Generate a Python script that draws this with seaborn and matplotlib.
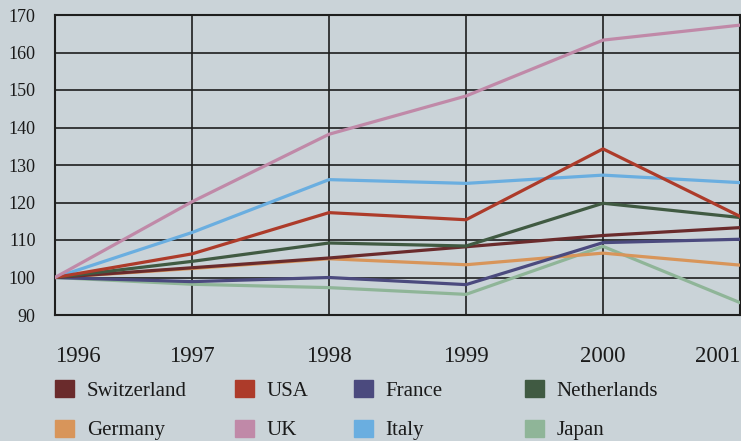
import matplotlib
matplotlib.use("Agg")
import matplotlib.pyplot as plt
from matplotlib.patches import Patch
import seaborn as sns
import pandas as pd

years = [1996, 1997, 1998, 1999, 2000, 2001]
switzerland = [100, 102.6, 105.2, 108.2, 111.2, 113.3]
usa = [100, 106.3, 117.3, 115.4, 134.3, 116.3]
france = [100, 98.9, 100.0, 98.1, 109.3, 110.2]
netherlands = [100, 104.3, 109.2, 108.4, 119.8, 116.0]
germany = [100, 102.4, 105.0, 103.4, 106.5, 103.3]
uk = [100, 120.2, 138.2, 148.4, 163.3, 167.3]
italy = [100, 112.0, 126.1, 125.1, 127.3, 125.3]
japan = [100, 98.2, 97.3, 95.5, 108.3, 93.3]

series = {
    "Switzerland": switzerland, "USA": usa, "France": france, "Netherlands": netherlands,
    "Germany": germany, "UK": uk, "Italy": italy, "Japan": japan,
}
colors = {
    "Switzerland": "#6a2b2c", "USA": "#ad3b2a", "France": "#4b4a7e", "Netherlands": "#405a42",
    "Germany": "#d8955a", "UK": "#c089a8", "Italy": "#6aaee0", "Japan": "#8fb598",
}
yticks = [90, 100, 110, 120, 130, 140, 150, 160, 170]

rows = []
for name, vals in series.items():
    for y, v in zip(years, vals):
        rows.append({"year": y, "value": v, "country": name})
df = pd.DataFrame(rows)

bg = "#cad3d8"
W, H = 741, 441
fig = plt.figure(figsize=(W / 100, H / 100), dpi=100, facecolor=bg)
ax = fig.add_axes([55 / W, 1 - 315 / H, (740 - 55) / W, 300 / H])
ax.set_facecolor(bg)

draw_order = ["Japan", "Germany", "France", "Switzerland", "Netherlands", "Italy", "USA", "UK"]
sns.lineplot(data=df, x="year", y="value", hue="country", hue_order=draw_order,
             palette=colors, linewidth=2.3, ax=ax, legend=False, zorder=3)

ax.set_xlim(1996, 2001)
ax.set_ylim(90, 170)
ax.set_xlabel("")
ax.set_ylabel("")
ax.set_xticks(years)
ax.set_yticks(yticks)
ax.grid(True, color="#1e1e1e", linewidth=1.2, zorder=1)
ax.set_axisbelow(True)
for s in ax.spines.values():
    s.set_color("#1e1e1e")
    s.set_linewidth(1.5)
ax.tick_params(axis="both", length=0, colors="#1a1a1a")
ax.tick_params(axis="y", pad=14)
ax.tick_params(axis="x", pad=22)
ax.set_yticklabels([str(t) for t in yticks], fontfamily="Liberation Serif", fontsize=13)
ax.set_xticklabels([str(y) for y in years], fontfamily="Liberation Serif", fontsize=16.5)
xl = ax.get_xticklabels()
xl[0].set_ha("left")
xl[-1].set_ha("right")

cols = [["Switzerland", "Germany"], ["USA", "UK"], ["France", "Italy"], ["Netherlands", "Japan"]]
xpos = [55, 235, 354, 525]
for names, x in zip(cols, xpos):
    handles = [Patch(facecolor=colors[n], edgecolor=colors[n]) for n in names]
    leg = fig.legend(handles, names, loc="upper left",
                     bbox_to_anchor=(x / W, 1 - 380 / H), bbox_transform=fig.transFigure,
                     frameon=False, borderpad=0, borderaxespad=0,
                     handlelength=0.9, handleheight=0.9, handletextpad=0.62,
                     labelspacing=0.9,
                     prop={"family": "Liberation Serif", "size": 15})
    for t in leg.get_texts():
        t.set_color("#1a1a1a")

fig.savefig("out.png", dpi=100, facecolor=bg)
